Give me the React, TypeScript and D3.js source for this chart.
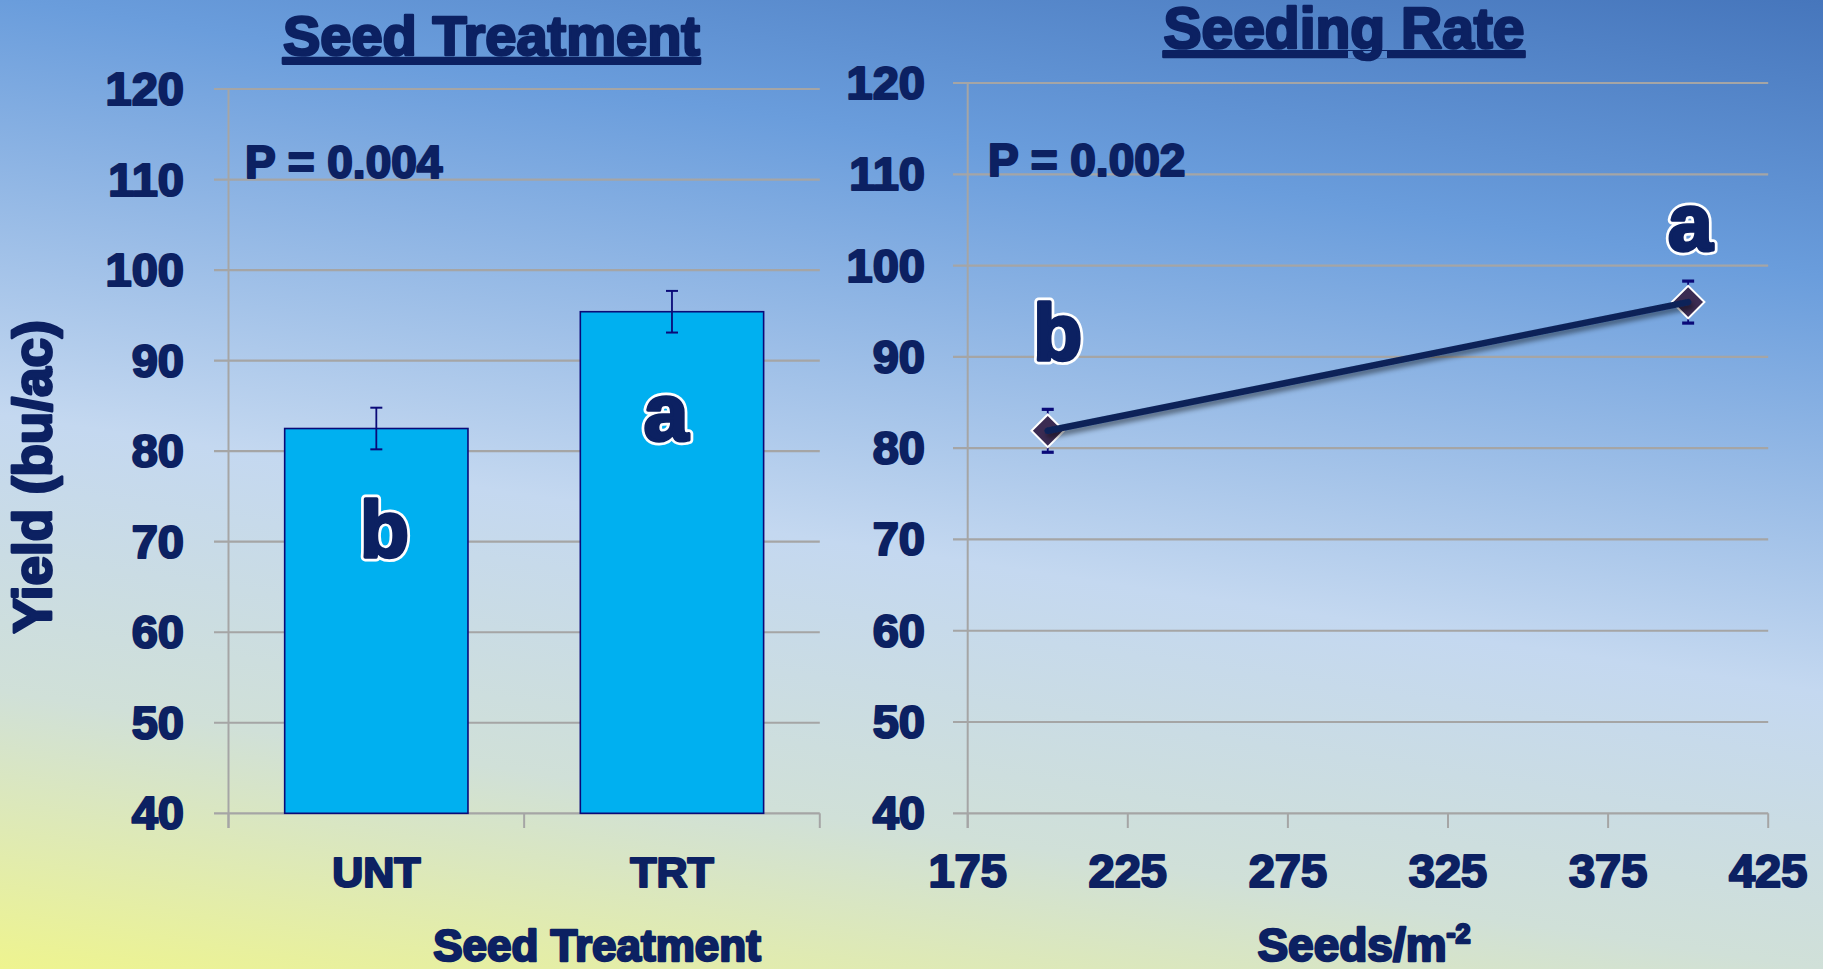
import React from 'react';
import * as d3 from 'd3';

// ---------- data ----------
const treatments = ['UNT', 'TRT'];
const treatmentYield = [82.5, 95.4];
const treatmentErr = [2.3, 2.3];
const treatmentLetters = ['b', 'a'];

const seedingRates = [200, 400];
const seedingYield = [81.9, 96.0];
const seedingErr = [2.35, 2.3];
const seedingLetters = ['b', 'a'];

const yTicks = [40, 50, 60, 70, 80, 90, 100, 110, 120];
const rateTicks = [175, 225, 275, 325, 375, 425];

const titles = ['Seed Treatment', 'Seeding Rate'];
const pValues = ['P = 0.004', 'P = 0.002'];
const yTitle = 'Yield (bu/ac)';
const xTitleLeft = 'Seed Treatment';
const xTitleRightMain = 'Seeds/m';
const xTitleRightSup = '-2';

// ---------- styles ----------
const W = 1823;
const H = 969;
const NAVY = '#0c2162';
const GRID = '#a5a5a5';
const FONT = "'Liberation Sans', Arial, Helvetica, sans-serif";

const txt = (size: number, sw: number, extra: any = {}) => ({
  fontFamily: FONT,
  fontWeight: 700,
  fontSize: size,
  fill: NAVY,
  stroke: NAVY,
  strokeWidth: sw,
  strokeLinejoin: 'round',
  ...extra,
});

function Letter({ x, y, s }: { x: number; y: number; s: string }) {
  return (
    <g>
      <text x={x} y={y} textAnchor="middle" style={txt(80, 9, { stroke: '#ffffff', fill: '#ffffff' })}>{s}</text>
      <text x={x} y={y} textAnchor="middle" style={txt(80, 3.6)}>{s}</text>
    </g>
  );
}

export default function App() {
  // left chart scales
  const yL = d3.scaleLinear().domain([40, 120]).range([813.3, 89]);
  const xL = d3.scaleBand<string>().domain(treatments).range([228.5, 819.8]).padding(0);
  const barW = xL.bandwidth() * 0.62;
  const leftGridX0 = 214;
  const leftGridX1 = 819.8;

  // right chart scales
  const yR = d3.scaleLinear().domain([40, 120]).range([813.3, 83]);
  const xR = d3.scaleLinear().domain([175, 425]).range([967.7, 1768.2]);
  const rightGridX0 = 953;

  const linePath = d3
    .line<number>()
    .x((_, i) => xR(seedingRates[i]))
    .y((d) => yR(d))(seedingYield) as string;

  const diamond = d3.symbol().type(d3.symbolSquare).size(530)() as string;

  const letterOffsetsRight = [
    { dx: 10, dy: -71 },
    { dx: 2, dy: -52 },
  ];

  return (
    <svg width={W} height={H} style={{ position: 'absolute', left: 0, top: 0, display: 'block' }}>
      <defs>
        <linearGradient id="bg" gradientUnits="userSpaceOnUse" x1={1823} y1={0} x2={1617} y2={1353}>
          <stop offset="0" stopColor="#4676bc" />
          <stop offset="0.2" stopColor="#6a9ddc" />
          <stop offset="0.5" stopColor="#c4d8f0" />
          <stop offset="0.7" stopColor="#d0e0d8" />
          <stop offset="0.9" stopColor="#eef48f" />
          <stop offset="1" stopColor="#f2f688" />
        </linearGradient>
        <filter id="lineShadow" x="-10%" y="-60%" width="120%" height="220%">
          <feDropShadow dx="2" dy="4" stdDeviation="2.5" floodColor="#000" floodOpacity="0.45" />
        </filter>
      </defs>
      <rect x={0} y={0} width={W} height={H} fill="url(#bg)" />

      {/* ---------- LEFT CHART ---------- */}
      <g>
        {yTicks.map((t) => (
          <line key={'lg' + t} x1={leftGridX0} x2={leftGridX1} y1={yL(t)} y2={yL(t)} stroke={GRID} strokeWidth={2.2} />
        ))}
        <line x1={228.5} x2={228.5} y1={yL(120)} y2={828} stroke={GRID} strokeWidth={2} />
        {[...treatments.map((c) => xL(c) as number), leftGridX1].map((x, i) => (
          <line key={'lt' + i} x1={x} x2={x} y1={yL(40)} y2={828} stroke={GRID} strokeWidth={2} />
        ))}
        {yTicks.map((t) => (
          <text key={'ly' + t} x={184} y={yL(t) + 16} textAnchor="end" style={txt(47, 2.2)}>{t}</text>
        ))}
        {treatments.map((c, i) => {
          const cx = (xL(c) as number) + xL.bandwidth() / 2;
          return (
            <g key={'bar' + c}>
              <rect x={cx - barW / 2} y={yL(treatmentYield[i])} width={barW} height={yL(40) - yL(treatmentYield[i])} fill="#00b0f0" stroke="#0a0a78" strokeWidth={1.6} />
              <line x1={cx} x2={cx} y1={yL(treatmentYield[i] + treatmentErr[i])} y2={yL(treatmentYield[i] - treatmentErr[i])} stroke="#0a0a78" strokeWidth={1.8} />
              <line x1={cx - 6} x2={cx + 6} y1={yL(treatmentYield[i] + treatmentErr[i])} y2={yL(treatmentYield[i] + treatmentErr[i])} stroke="#0a0a78" strokeWidth={2} />
              <line x1={cx - 6} x2={cx + 6} y1={yL(treatmentYield[i] - treatmentErr[i])} y2={yL(treatmentYield[i] - treatmentErr[i])} stroke="#0a0a78" strokeWidth={2} />
              <Letter x={cx + (i === 0 ? 8 : -6)} y={yL(treatmentYield[i]) + 128} s={treatmentLetters[i]} />
              <text x={cx} y={886.7} textAnchor="middle" style={txt(43, 2.2)}>{c}</text>
            </g>
          );
        })}
        <text x={491.5} y={55} textAnchor="middle" style={txt(56, 2.6, { textDecoration: 'underline' })}>{titles[0]}</text>
        <text x={245} y={178.3} style={txt(46, 2.2)}>{pValues[0]}</text>
        <text x={597} y={961} textAnchor="middle" style={txt(44, 2.4)}>{xTitleLeft}</text>
        <text transform="translate(51,477) rotate(-90)" textAnchor="middle" style={txt(53, 2.8)}>{yTitle}</text>
      </g>

      {/* ---------- RIGHT CHART ---------- */}
      <g>
        {yTicks.map((t) => (
          <line key={'rg' + t} x1={rightGridX0} x2={xR(425)} y1={yR(t)} y2={yR(t)} stroke={GRID} strokeWidth={2.2} />
        ))}
        <line x1={xR(175)} x2={xR(175)} y1={yR(120)} y2={828} stroke={GRID} strokeWidth={2} />
        {rateTicks.map((t) => (
          <line key={'rt' + t} x1={xR(t)} x2={xR(t)} y1={yR(40)} y2={828} stroke={GRID} strokeWidth={2} />
        ))}
        {yTicks.map((t) => (
          <text key={'ry' + t} x={925} y={yR(t) + 16} textAnchor="end" style={txt(47, 2.2)}>{t}</text>
        ))}
        {rateTicks.map((t) => (
          <text key={'rx' + t} x={xR(t)} y={886.7} textAnchor="middle" style={txt(47, 2.2)}>{t}</text>
        ))}
        {seedingRates.map((r, i) => {
          const cx = xR(r);
          const top = yR(seedingYield[i] + seedingErr[i]);
          const bot = yR(seedingYield[i] - seedingErr[i]);
          return (
            <g key={'eb' + r}>
              <line x1={cx} x2={cx} y1={top} y2={bot} stroke="#0a0a78" strokeWidth={1.8} />
              <line x1={cx - 6} x2={cx + 6} y1={top} y2={top} stroke="#0a0a78" strokeWidth={3.2} />
              <line x1={cx - 6} x2={cx + 6} y1={bot} y2={bot} stroke="#0a0a78" strokeWidth={3.2} />
            </g>
          );
        })}
        {seedingRates.map((r, i) => (
          <path key={'dm' + r} d={diamond} transform={`translate(${xR(r)},${yR(seedingYield[i])}) rotate(45)`} fill="#3b2b52" stroke="#ffffff" strokeWidth={2} />
        ))}
        <path d={linePath} fill="none" stroke="#0b2258" strokeWidth={6.5} strokeLinecap="round" filter="url(#lineShadow)" />
        {seedingRates.map((r, i) => (
          <Letter key={'rl' + r} x={xR(r) + letterOffsetsRight[i].dx} y={yR(seedingYield[i]) + letterOffsetsRight[i].dy} s={seedingLetters[i]} />
        ))}
        <text x={1344} y={48.3} textAnchor="middle" style={txt(57, 2.6, { textDecoration: 'underline' })}>{titles[1]}</text>
        <text x={988} y={175.7} style={txt(46, 2.2)}>{pValues[1]}</text>
        <text x={1364} y={961} textAnchor="middle" style={txt(46, 2.4)}>
          {xTitleRightMain}
          <tspan fontSize={27} dy={-18}>{xTitleRightSup}</tspan>
        </text>
      </g>
    </svg>
  );
}
